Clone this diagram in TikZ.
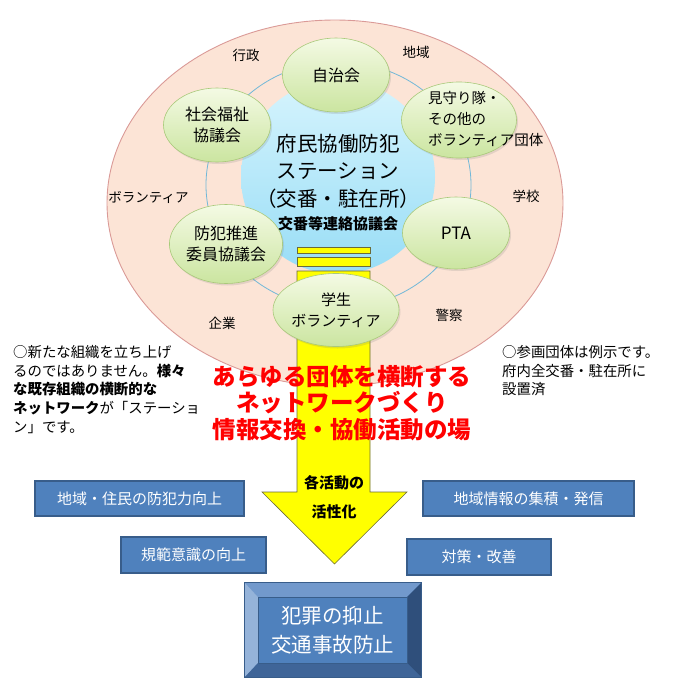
\documentclass[tikz,border=0pt]{standalone}
\usepackage{fontspec}
\setmainfont{Noto Sans CJK JP}
\usetikzlibrary{shapes.geometric,shadows}
\definecolor{cBlush}{HTML}{FCE4D6}
\definecolor{cRose}{HTML}{DA9A97}
\definecolor{cRing}{HTML}{72B8D8}
\definecolor{cSkyL}{HTML}{D6F4FD}
\definecolor{cSky}{HTML}{98DDF6}
\definecolor{cLeafL}{HTML}{F4FAE4}
\definecolor{cLeaf}{HTML}{CBE5A0}
\definecolor{cLeafD}{HTML}{A9C97A}
\definecolor{cSun}{HTML}{FFFF00}
\definecolor{cOlive}{HTML}{6B6B3A}
\definecolor{cBlue}{HTML}{4F81BD}
\definecolor{cBlueD}{HTML}{385D8A}
\definecolor{cBevT}{HTML}{7299CC}
\definecolor{cBevL}{HTML}{95B3D9}
\definecolor{cBevR}{HTML}{2F4F7B}
\definecolor{cBevB}{HTML}{3F6598}
\definecolor{cAlert}{HTML}{FF0000}
\newcommand{\fsz}[2]{\fontsize{#1}{#2}\selectfont}
\tikzset{
  ring/.style ={ellipse,draw=cRose,fill=cBlush,line width=0.9pt,inner sep=0pt,minimum width=456pt,minimum height=366pt},
  orbit/.style={ellipse,draw=cRing,line width=0.8pt,inner sep=0pt,minimum width=265pt,minimum height=246pt},
  hub/.style  ={circle,inner sep=0pt,minimum size=194pt,top color=cSkyL,bottom color=cSky},
  hubtxt/.style={align=center,inner sep=0pt,font=\fsz{20.5}{27.5}},
  hubsub/.style={inner sep=0pt,font=\bfseries\fsz{15}{17}},
  grp/.style  ={ellipse,draw=cLeafD,line width=0.6pt,top color=cLeafL,bottom color=cLeaf,
                align=center,inner sep=0pt,minimum width=107pt,minimum height=74pt,font=\fsz{16}{20.5},
                drop shadow={opacity=0.2,shadow xshift=1.5pt,shadow yshift=-2pt}},
  tag/.style  ={inner sep=0pt,font=\fsz{13.5}{15}},
  sunbar/.style={draw=cOlive,line width=0.6pt,fill=cSun},
  push/.style ={inner sep=0pt,font=\bfseries\fsz{15}{17}},
  slogan/.style={align=center,inner sep=0pt,text=cAlert,font=\bfseries\fsz{23.5}{26.8}},
  note/.style ={align=left,anchor=north west,inner sep=0pt,font=\fsz{14.4}{18.7}},
  effect/.style={rectangle,draw=cBlueD,line width=1.6pt,fill=cBlue,text=white,inner sep=0pt,
                 minimum height=35pt,font=\fsz{15}{18}},
}

\begin{document}
\begin{tikzpicture}[x=1pt,y=-1pt]
\useasboundingbox (0,0) rectangle (675,694);
% station and its partners
\node[ring] (field) at (335,203) {};
\node[orbit] (orbit) at (338.5,185) {};
\node[hub] (hub) at (338,177) {};
\node[hubtxt] (hubname) at (338,171) {府民協働防犯\\ステーション\\（交番・駐在所）};
\node[hubsub] (kobankyo) at (338,224) {交番等連絡協議会};
\draw[sunbar] (297,247) rectangle (370,253);
\draw[sunbar] (297,257) rectangle (370,266);
\draw[sunbar] (297,271) -- (370,271) -- (370,492) -- (407,492) -- (334.5,564)
  -- (262,492) -- (297,492) -- cycle;
\node[grp] (jichi) at (336,75) {自治会};
\node[grp] (shakyo) at (217,125) {社会福祉\\協議会};
\node[grp,minimum width=115pt,minimum height=76pt] (mimamori) at (459,120) {};
\node[align=left,anchor=west,inner sep=0pt,font=\fsz{14.5}{21}] (mimamoritxt) at (428,119)
  {見守り隊・\\その他の\\ボランティア団体};
\node[grp,minimum width=112pt,minimum height=79pt] (suishin) at (226,244) {防犯推進\\委員協議会};
\node[grp,minimum height=72pt,font=\fsz{17}{20}] (pta) at (456,233) {PTA};
\node[grp,minimum width=121pt,minimum height=73pt,font=\fsz{15}{21}] (gakusei) at (336,310) {学生\\ボランティア};
\node[tag] (gyosei) at (246,55) {行政};
\node[tag] (chiiki) at (416,52) {地域};
\node[tag] (volun) at (148.5,197) {ボランティア};
\node[tag] (gakko) at (526,196) {学校};
\node[tag] (kigyo) at (222,323) {企業};
\node[tag] (keisatsu) at (449,315) {警察};
% notes and slogan
\node[slogan] (slogan) at (342,403) {あらゆる団体を横断する\\ネットワークづくり\\情報交換・協働活動の場};
\node[note] (newnet) at (13,345) {○新たな組織を立ち上げ\\るのではありません。\textbf{様々}\\
  \textbf{な既存組織の横断的な}\\\textbf{ネットワーク}が「ステーショ\\ン」です。};
\node[note] (sample) at (502,345) {○参画団体は例示です。\\府内全交番・駐在所に\\設置済};
\node[push] (kaku) at (334,483) {各活動の};
\node[push] (kassei) at (334,512) {活性化};
% effects
\node[effect,minimum width=209pt] (bouhan) at (139.5,498.5) {地域・住民の防犯力向上};
\node[effect,minimum width=145pt,minimum height=36pt] (kihan) at (193.5,555) {規範意識の向上};
\node[effect,minimum width=211pt] (joho) at (528.5,498.5) {地域情報の集積・発信};
\node[effect,minimum width=144pt,minimum height=36pt] (taisaku) at (479,557) {対策・改善};
\node[fill=cBlue,inner sep=0pt,minimum width=176pt,minimum height=94pt] (frame) at (333,630) {};
\node[fill=cBlue,text=white,align=center,inner sep=0pt,minimum width=149pt,minimum height=66pt,
  font=\fsz{20.5}{29}] (goal) at (332.5,630) {犯罪の抑止\\交通事故防止};
\fill[cBevT] (frame.north west) -- (frame.north east) -- (goal.north east) -- (goal.north west) -- cycle;
\fill[cBevL] (frame.north west) -- (goal.north west) -- (goal.south west) -- (frame.south west) -- cycle;
\fill[cBevR] (frame.north east) -- (frame.south east) -- (goal.south east) -- (goal.north east) -- cycle;
\fill[cBevB] (frame.south west) -- (goal.south west) -- (goal.south east) -- (frame.south east) -- cycle;
\draw[cBlueD,line width=0.6pt] (goal.north west) rectangle (goal.south east);
\draw[cBlueD,line width=1.2pt] (frame.north west) rectangle (frame.south east);
\end{tikzpicture}
\end{document}
